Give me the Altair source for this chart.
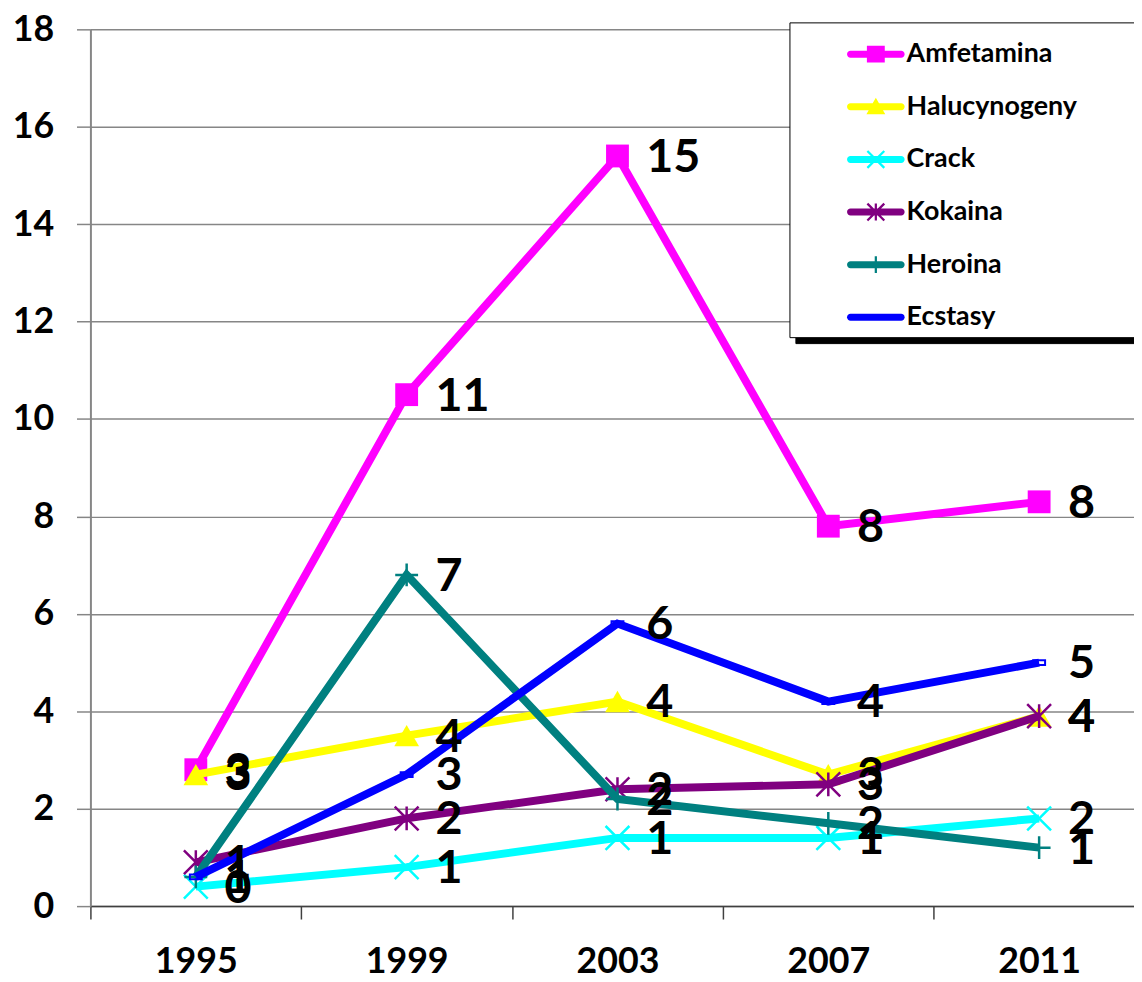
import math
import altair as alt
import pandas as pd

# ---- data ----
years = [1995, 1999, 2003, 2007, 2011]
series = ["Amfetamina", "Halucynogeny", "Crack", "Kokaina", "Heroina", "Ecstasy"]
amfetamina = [2.8, 10.5, 15.4, 7.8, 8.3]
halucynogeny = [2.7, 3.5, 4.2, 2.7, 3.9]
crack = [0.4, 0.8, 1.4, 1.4, 1.8]
kokaina = [0.9, 1.8, 2.4, 2.5, 3.9]
heroina = [0.6, 6.8, 2.2, 1.7, 1.2]
ecstasy = [0.6, 2.7, 5.8, 4.2, 5.0]
colors = ["#FF00FF", "#FFFF00", "#00FFFF", "#800080", "#008080", "#0000FF"]
y_ticks = [0, 2, 4, 6, 8, 10, 12, 14, 16, 18]
x_tick_values = [1993, 1995, 1997, 1999, 2001, 2003, 2005, 2007, 2009, 2011]

rows = []
for s, vals in zip(series, [amfetamina, halucynogeny, crack, kokaina, heroina, ecstasy]):
    for yr, v in zip(years, vals):
        rows.append({"series": s, "year": yr, "value": v})
df = pd.DataFrame(rows)

# ---- marker styles (Excel-like) ----
X_PATH = "M-1,-1L1,1M-1,1L1,-1"
STAR_PATH = "M-1,-1L1,1M-1,1L1,-1M0,-1L0,1"
PLUS_PATH = "M-1,0L1,0M0,-1L0,1"
DASH_PATH = "M-0.5,-0.2L0.5,-0.2L0.5,0.2L-0.5,0.2Z"
markers = {
    "Amfetamina": dict(shape="square", filled=True, size=529, strokeWidth=0),
    "Halucynogeny": dict(shape="triangle-up", filled=True, size=620, strokeWidth=0),
    "Crack": dict(shape=X_PATH, filled=False, size=576, strokeWidth=2.5),
    "Kokaina": dict(shape=STAR_PATH, filled=False, size=576, strokeWidth=2.5),
    "Heroina": dict(shape=PLUS_PATH, filled=False, size=530, strokeWidth=2.5),
    "Ecstasy": dict(shape=DASH_PATH, filled=False, size=576, strokeWidth=2),
}


# ---- legend symbols: line + marker as filled paths (unit box -1..1) ----
def seg(x1, y1, x2, y2, h):
    dx, dy = x2 - x1, y2 - y1
    ln = math.hypot(dx, dy)
    ux, uy = dx / ln, dy / ln
    nx, ny = uy, -ux
    pts = [(x1 + h * nx, y1 + h * ny), (x2 + h * nx, y2 + h * ny),
           (x2 - h * nx, y2 - h * ny), (x1 - h * nx, y1 - h * ny)]
    return "M" + "L".join(f"{x:.3f},{y:.3f}" for x, y in pts) + "Z"


L, T, A, H = 1.02, 0.14, 0.34, 0.045
line_path = (f"M{-L},{-T}L{L},{-T}A{T},{T} 0 0 1 {L},{T}"
             f"L{-L},{T}A{T},{T} 0 0 1 {-L},{-T}Z")
legend_paths = [
    line_path + "M-0.36,-0.34L0.36,-0.34L0.36,0.34L-0.36,0.34Z",
    line_path + "M0,-0.36L0.38,0.3L-0.38,0.3Z",
    line_path + seg(-A, -A, A, A, H) + seg(-A, A, A, -A, H),
    line_path + seg(-A, -A, A, A, H) + seg(-A, A, A, -A, H) + seg(0, -A, 0, A, H),
    line_path + seg(0, -A, 0, A, H),
    line_path,
]

FONT = "Lato"
GRID = "#868686"

x_enc = alt.X(
    "year:Q",
    scale=alt.Scale(domain=[1993, 2012.8], nice=False, zero=False),
    axis=alt.Axis(
        values=x_tick_values,
        format="d",
        labelExpr="datum.value % 4 == 3 ? datum.label : ''",
        tickOpacity={"condition": {"test": "datum.value % 4 == 1", "value": 1}, "value": 0},
        tickSize=13,
        tickWidth=1.5,
        tickColor="#404040",
        domainColor="#404040",
        domainWidth=1.5,
        grid=False,
        labelFont=FONT,
        labelFontWeight="bold",
        labelFontSize=36,
        labelColor="black",
        labelPadding=26,
        labelFlush=False,
        labelOverlap=False,
        title=None,
    ),
)

y_enc = alt.Y(
    "value:Q",
    scale=alt.Scale(domain=[0, 18], nice=False, zero=True),
    axis=alt.Axis(
        values=y_ticks,
        grid=True,
        gridColor=GRID,
        gridWidth=1.5,
        domainColor=GRID,
        domainWidth=2,
        tickColor=GRID,
        tickWidth=1.5,
        tickSize=14,
        labelFont=FONT,
        labelFontWeight="bold",
        labelFontSize=36,
        labelColor="black",
        labelPadding=23,
        title=None,
    ),
)

# blank (non-whitespace) characters widen the legend box to the right
pad_chars = "\u2800" * 4
LEG_X, LEG_Y = 704, -7
legend_common = dict(
    orient="none",
    title=None,
    symbolSize=2500,
    symbolStrokeWidth=0,
    symbolOffset=55,
    labelOffset=6,
    rowPadding=15,
    padding=7,
    labelFont="Lato, 'DejaVu Sans'",
    labelFontWeight="bold",
    labelFontSize=27,
    labelLimit=700,
)
legend = alt.Legend(
    legendX=LEG_X,
    legendY=LEG_Y,
    labelColor="black",
    labelExpr="datum.label + '" + pad_chars + "'",
    strokeColor="black",
    fillColor="white",
    zindex=2,
    **legend_common,
)
# black drop shadow of the legend box: an identical legend drawn behind it
shadow_legend = alt.Legend(
    legendX=LEG_X + 6,
    legendY=LEG_Y + 6,
    labelColor="black",
    labelExpr="replace(datum.label, '#', '') + '" + pad_chars + "'",
    strokeColor="black",
    fillColor="black",
    symbolType=line_path,
    symbolOpacity=0,
    zindex=1,
    **legend_common,
)

color_scale = alt.Scale(domain=series, range=colors)
base = alt.Chart(df)

# legend-only layer first (no data drawn), so its legend definition wins
legend_layer = base.transform_filter("false").transform_calculate(
    shadow="datum.series + '#'"
).mark_point(
    filled=True, opacity=1, strokeWidth=0
).encode(
    x=x_enc, y=y_enc,
    color=alt.Color("series:N", scale=color_scale, sort=series, legend=legend),
    shape=alt.Shape("series:N", scale=alt.Scale(domain=series, range=legend_paths),
                    sort=series, legend=legend),
    opacity=alt.Opacity("shadow:O", scale=alt.Scale(domain=[s + "#" for s in series],
                                                    range=[1] * len(series)),
                        legend=shadow_legend),
)
layers = [legend_layer]

for s in series:
    sub = base.transform_filter(alt.datum.series == s)
    layers.append(
        sub.mark_line(strokeWidth=8).encode(
            x=x_enc, y=y_enc,
            color=alt.Color("series:N", scale=color_scale),
        )
    )
    m = markers[s]
    layers.append(
        sub.mark_point(opacity=1, **m).encode(
            x=x_enc, y=y_enc,
            color=alt.Color("series:N", scale=color_scale),
        )
    )

labels = base.transform_calculate(
    label="round(datum.value)"
).mark_text(
    align="left", baseline="middle", dx=29, dy=2,
    font=FONT, fontWeight="bold", fontSize=47, color="black",
).encode(
    x=x_enc,
    y=y_enc,
    text=alt.Text("label:Q", format="d"),
)
layers.append(labels)

chart = alt.layer(*layers).properties(
    width=1051,
    height=883,
    autosize=alt.AutoSizeParams(type="none"),
    padding={"left": 83, "top": 18, "right": 0, "bottom": 82},
    background="white",
).configure_view(strokeWidth=0)

chart.save("out.html", embed_options={"renderer": "svg", "actions": False})
